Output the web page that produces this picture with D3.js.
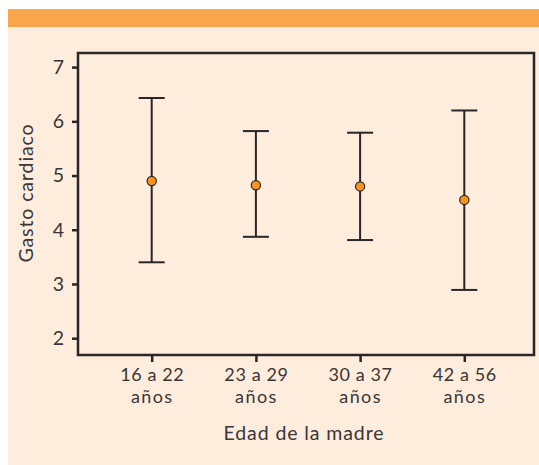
<!DOCTYPE html>
<html>
<head>
<meta charset="utf-8">
<script src="https://cdn.jsdelivr.net/npm/d3@7"></script>
<style>
  html, body { margin: 0; padding: 0; background: #ffffff; }
  svg { display: block; }
  text { font-family: "Lato", "Open Sans", sans-serif; fill: #3a3536; }
</style>
</head>
<body>
<svg id="chart" width="539" height="465"></svg>
<script>
// Data
const categories = ["16 a 22", "23 a 29", "30 a 37", "42 a 56"];
const catSecondLine = ["años", "años", "años", "años"];
const means = [4.90, 4.82, 4.80, 4.55];
const upper = [6.43, 5.82, 5.79, 6.20];
const lower = [3.40, 3.87, 3.81, 2.89];
const yTicks = [2, 3, 4, 5, 6, 7];
const xTitle = "Edad de la madre";
const yTitle = "Gasto cardiaco";

const svg = d3.select("#chart");
const W = 539, H = 465;

// Background panels
svg.append("rect").attr("x", 8).attr("y", 27).attr("width", W - 8).attr("height", H - 27).attr("fill", "#feecdd");
svg.append("rect").attr("x", 8).attr("y", 9).attr("width", W - 8).attr("height", 18).attr("fill", "#f9a54b");

const plot = { left: 78, right: 534, top: 53, bottom: 355 };

const y = d3.scaleLinear().domain([1.69, 7.26]).range([plot.bottom, plot.top]);
const x = d3.scalePoint().domain(categories).range([151.7, 464.3]).padding(0);

const data = categories.map((c, i) => ({ c, m: means[i], hi: upper[i], lo: lower[i] }));

const ink = "#2a2526";
const fs = 19.5;
const fsx = 18;
const ls = "0.9px";

// Y axis
const yAxis = svg.append("g").attr("transform", `translate(${plot.left},0)`)
  .call(d3.axisLeft(y).tickValues(yTicks).tickSize(6).tickPadding(8).tickFormat(d3.format("d")));
yAxis.select(".domain").remove();
yAxis.selectAll(".tick line").attr("stroke", ink).attr("stroke-width", 2.5);
yAxis.selectAll(".tick text").attr("font-size", fs).style("font-family", '"Lato", sans-serif').attr("fill", "#3a3536");

// X axis
const xAxis = svg.append("g").attr("transform", `translate(0,${plot.bottom})`)
  .call(d3.axisBottom(x).tickSize(7).tickFormat(""));
xAxis.select(".domain").remove();
xAxis.selectAll(".tick line").attr("stroke", ink).attr("stroke-width", 2.5);
xAxis.selectAll(".tick").each(function(d, i) {
  const t = d3.select(this);
  t.append("text").attr("text-anchor", "middle").attr("font-size", fsx)
    .attr("letter-spacing", "0.6px")
    .attr("x", 0).attr("y", 26).text(d);
  t.append("text").attr("text-anchor", "middle").attr("font-size", fsx)
    .attr("letter-spacing", "1.4px")
    .attr("x", 0).attr("y", 48).text(catSecondLine[i]);
});

// Frame
svg.append("rect")
  .attr("x", plot.left).attr("y", plot.top)
  .attr("width", plot.right - plot.left).attr("height", plot.bottom - plot.top)
  .attr("fill", "none").attr("stroke", ink).attr("stroke-width", 2.5);

// Error bars
const capHalf = 13;
const g = svg.append("g");
const grp = g.selectAll("g.eb").data(data).join("g").attr("class", "eb");
grp.append("line")
  .attr("x1", d => x(d.c)).attr("x2", d => x(d.c))
  .attr("y1", d => y(d.hi)).attr("y2", d => y(d.lo))
  .attr("stroke", ink).attr("stroke-width", 2);
grp.append("line")
  .attr("x1", d => x(d.c) - capHalf).attr("x2", d => x(d.c) + capHalf)
  .attr("y1", d => y(d.hi)).attr("y2", d => y(d.hi))
  .attr("stroke", ink).attr("stroke-width", 2);
grp.append("line")
  .attr("x1", d => x(d.c) - capHalf).attr("x2", d => x(d.c) + capHalf)
  .attr("y1", d => y(d.lo)).attr("y2", d => y(d.lo))
  .attr("stroke", ink).attr("stroke-width", 2);
grp.append("circle")
  .attr("cx", d => x(d.c)).attr("cy", d => y(d.m)).attr("r", 4.6)
  .attr("fill", "#f7941d").attr("stroke", ink).attr("stroke-width", 1.2);

// Titles
svg.append("text").attr("x", 304).attr("y", 440)
  .attr("text-anchor", "middle").attr("font-size", fs).attr("letter-spacing", ls).text(xTitle);
svg.append("text").attr("transform", `translate(33,193) rotate(-90)`)
  .attr("text-anchor", "middle").attr("font-size", fs).attr("letter-spacing", ls).text(yTitle);
</script>
</body>
</html>
